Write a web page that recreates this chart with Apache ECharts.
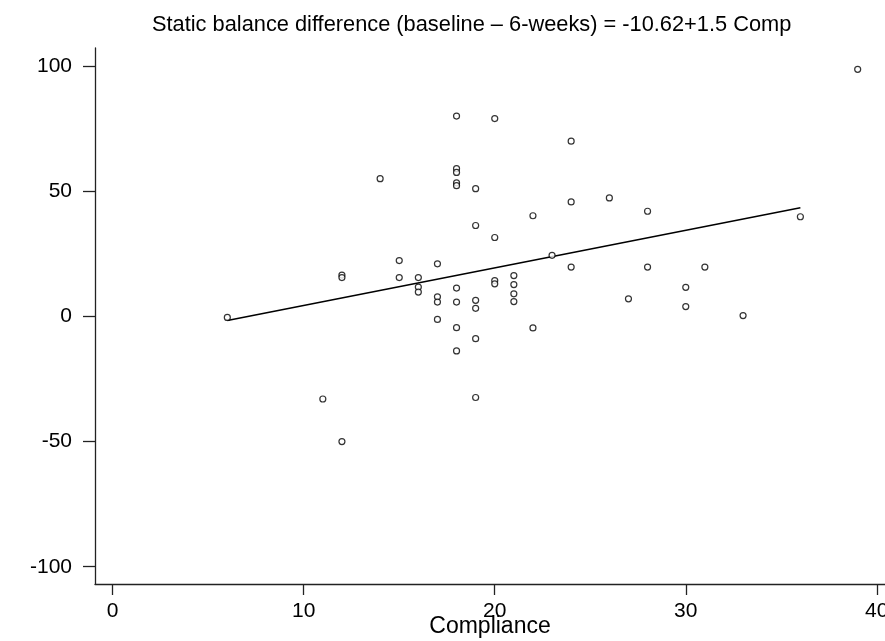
<!DOCTYPE html>
<html>
<head>
<meta charset="utf-8">
<script src="https://cdn.jsdelivr.net/npm/echarts@6/dist/echarts.min.js"></script>
<style>html,body{margin:0;padding:0;background:#fff}#chart{width:885px;height:641px}</style>
</head>
<body>
<div id="chart"></div>
<script>
// Compliance (x) and static balance difference (y) for each subject
const compliance = [6, 11, 12, 12, 12, 14, 15, 15, 16, 16, 16, 17, 17, 17, 17,
  18, 18, 18, 18, 18, 18, 18, 18, 18,
  19, 19, 19, 19, 19, 19,
  20, 20, 20, 20,
  21, 21, 21, 21,
  22, 22, 23, 24, 24, 24, 26, 27, 28, 28, 30, 30, 31, 33, 36, 39];
const balanceDiff = [-0.4, -33, 16.5, 15.5, -50, 55, 22.3, 15.5, 15.5, 11.7, 9.7, 21, 7.8, 5.7, -1.2,
  80, 59, 57.5, 53.3, 52.2, 11.3, 5.7, -4.5, -13.8,
  51, 36.3, 6.4, 3.2, -8.9, -32.4,
  79, 31.5, 14.3, 13,
  16.3, 12.7, 9, 5.9,
  40.2, -4.6, 24.4, 70, 45.7, 19.7, 47.3, 7, 42, 19.7, 11.6, 3.9, 19.7, 0.3, 39.8, 98.7];
// Fitted regression line: y = intercept + slope * Comp, drawn over the observed range
const fitIntercept = -10.62;
const fitSlope = 1.5;
const fitRange = [6, 36];
const xTicks = [0, 10, 20, 30, 40];
const yTicks = [-100, -50, 0, 50, 100];
const titleText = 'Static balance difference (baseline \u2013 6-weeks) = -10.62+1.5 Comp';
const xName = 'Compliance';

const points = compliance.map((c, i) => [c, balanceDiff[i]]);
const fitLine = fitRange.map(x => [x, fitIntercept + fitSlope * x]);

const FONT = "'Liberation Sans', Arial, Helvetica, sans-serif";
const chart = echarts.init(document.getElementById('chart'), null, {renderer: 'canvas'});
chart.setOption({
  animation: false,
  backgroundColor: '#fff',
  title: {
    text: titleText,
    left: 147, top: 9,
    textStyle: {fontFamily: FONT, fontSize: 21.8, fontWeight: 'normal', color: '#000'}
  },
  grid: {left: 95, right: 0, top: 48, bottom: 57, containLabel: false, outerBoundsMode: 'none'},
  xAxis: {
    type: 'value', min: -0.927, max: 40.43,
    name: xName, nameLocation: 'middle', nameGap: 31, nameMoveOverlap: false,
    nameTextStyle: {fontFamily: FONT, fontSize: 23, color: '#000', verticalAlign: 'top'},
    axisLine: {show: true, onZero: false, lineStyle: {color: '#222', width: 1.3}},
    axisTick: {show: true, length: 11, customValues: xTicks, lineStyle: {color: '#222', width: 1.3}},
    axisLabel: {customValues: xTicks, margin: 17, fontFamily: FONT, fontSize: 21, color: '#000'},
    splitLine: {show: false}
  },
  yAxis: {
    type: 'value', min: -106.9, max: 107.2,
    axisLine: {show: true, onZero: false, lineStyle: {color: '#222', width: 1.3}},
    axisTick: {show: true, length: 12, customValues: yTicks, lineStyle: {color: '#222', width: 1.3}},
    axisLabel: {customValues: yTicks, margin: 23, fontFamily: FONT, fontSize: 21, color: '#000'},
    splitLine: {show: false}
  },
  series: [
    {
      type: 'scatter', data: points, symbol: 'circle', symbolSize: 6,
      itemStyle: {color: '#fff', borderColor: '#000', borderWidth: 1.2}, z: 3
    },
    {
      type: 'line', data: fitLine, symbol: 'none',
      lineStyle: {color: '#000', width: 1.5}, z: 2
    }
  ]
});
</script>
</body>
</html>
